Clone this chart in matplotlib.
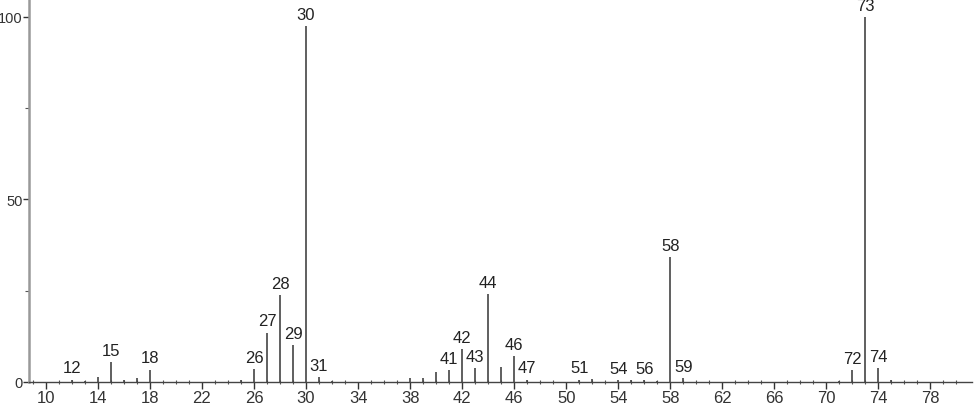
import matplotlib.pyplot as plt
import numpy as np

# m/z and relative intensity
mz = [12, 13, 14, 15, 16, 17, 18, 25, 26, 27, 28, 29, 30, 31, 32,
      38, 39, 40, 41, 42, 43, 44, 45, 46, 47,
      51, 52, 54, 55, 56, 57, 58, 59, 71, 72, 73, 74, 75]
intensity = [0.6, 0.4, 1.5, 5.5, 0.5, 1.0, 3.4, 0.6, 3.5, 13.5, 23.8, 10.0, 97.5, 1.4, 0.3,
             1.0, 1.2, 2.8, 3.3, 9.0, 3.8, 24.0, 4.1, 7.0, 0.6,
             0.6, 0.8, 0.5, 0.5, 0.5, 0.3, 34.2, 1.0, 0.4, 3.3, 100.0, 3.8, 0.6]
labelled = [12, 15, 18, 26, 27, 28, 29, 30, 31, 41, 42, 43, 44, 46, 47,
            51, 54, 56, 58, 59, 72, 73, 74]

plt.rcParams['font.family'] = 'Liberation Sans'

fig = plt.figure(figsize=(9.74, 4.06), dpi=100)
ax = fig.add_axes([29 / 974, 23 / 406, 943 / 974, 383 / 406])

ax.vlines(mz, 0, intensity, color='#444444', linewidth=1.2)

for m, v in zip(mz, intensity):
    if m in labelled:
        ax.text(m, v + 1.2, str(m), ha='center', va='bottom', fontsize=12, color='#222222')

ax.set_xlim(8.7, 81.2)
ax.set_ylim(0, 104.9)

ax.set_xticks(np.arange(10, 80, 4))
ax.set_xticks(np.arange(9, 81, 1), minor=True)
ax.set_yticks([0, 50, 100])
ax.set_yticks([25, 75], minor=True)

ax.tick_params(axis='x', which='major', direction='out', length=5, width=1, colors='#333333',
               labelsize=12, pad=1)
ax.tick_params(axis='x', which='minor', direction='inout', length=3, width=0.8, colors='#555555')
ax.tick_params(axis='y', which='major', direction='out', length=4, width=1, colors='#333333',
               labelsize=10.5, pad=0.5)
ax.tick_params(axis='y', which='minor', direction='out', length=3, width=0.8, colors='#555555')

for s in ['top', 'right']:
    ax.spines[s].set_visible(False)
ax.spines['left'].set_color('#999999')
ax.spines['left'].set_linewidth(1.8)
ax.spines['bottom'].set_color('#444444')
ax.spines['bottom'].set_linewidth(1)

fig.savefig('out.png', dpi=100)
